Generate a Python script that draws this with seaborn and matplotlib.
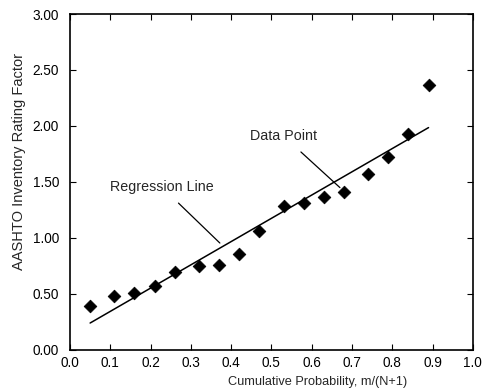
import matplotlib
matplotlib.use("Agg")
import matplotlib.pyplot as plt
import seaborn as sns
import pandas as pd

# data
cum_prob = [0.05, 0.11, 0.16, 0.21, 0.26, 0.32, 0.37, 0.42, 0.47,
            0.53, 0.58, 0.63, 0.68, 0.74, 0.79, 0.84, 0.89]
rating = [0.39, 0.48, 0.51, 0.57, 0.70, 0.75, 0.76, 0.86, 1.06,
          1.29, 1.31, 1.37, 1.41, 1.57, 1.72, 1.93, 2.37]
x_ticks = [0.0, 0.1, 0.2, 0.3, 0.4, 0.5, 0.6, 0.7, 0.8, 0.9, 1.0]
y_ticks = [0.00, 0.50, 1.00, 1.50, 2.00, 2.50, 3.00]

df = pd.DataFrame({"p": cum_prob, "rf": rating})

sns.set_style("ticks")
plt.rcParams['font.family'] = ['Liberation Sans', 'DejaVu Sans']

fig = plt.figure(figsize=(4.84, 3.90), dpi=100)
ax = fig.add_axes([0.1446, 0.1026, 0.8324, 0.8615])

sns.regplot(data=df, x="p", y="rf", ax=ax, ci=None, truncate=True,
            scatter=False, line_kws=dict(color="black", lw=1.1))
sns.scatterplot(data=df, x="p", y="rf", ax=ax, marker="D", s=42,
                color="black", edgecolor="black", zorder=3)

ax.set_xlim(0, 1.0)
ax.set_ylim(0, 3.0)
ax.set_xticks(x_ticks)
ax.set_xticklabels([f"{v:.1f}" for v in x_ticks])
ax.set_yticks(y_ticks)
ax.set_yticklabels([f"{v:.2f}" for v in y_ticks])
ax.tick_params(direction="in", top=True, right=True, length=4, width=0.8,
               labelsize=9.8, colors="black")
ax.tick_params(axis="y", pad=8)
ax.tick_params(axis="x", pad=4)
for s in ax.spines.values():
    s.set_color("black")
    s.set_linewidth(1.2)

ax.set_xlabel("Cumulative Probability, m/(N+1)", fontsize=9.2)
ax.set_ylabel("AASHTO Inventory Rating Factor", fontsize=10.5)
ax.xaxis.set_label_coords(0.615, -0.077)
ax.yaxis.set_label_coords(-0.108, 0.56)

ax.annotate("Data Point", xy=(0.67, 1.45), xytext=(0.53, 1.91),
            ha="center", va="center", fontsize=10.3,
            arrowprops=dict(arrowstyle="-", color="black", lw=0.9,
                            shrinkA=6, shrinkB=0))
ax.annotate("Regression Line", xy=(0.372, 0.955), xytext=(0.228, 1.455),
            ha="center", va="center", fontsize=10.3,
            arrowprops=dict(arrowstyle="-", color="black", lw=0.9,
                            shrinkA=6, shrinkB=0))

fig.savefig("out.png", dpi=100)
